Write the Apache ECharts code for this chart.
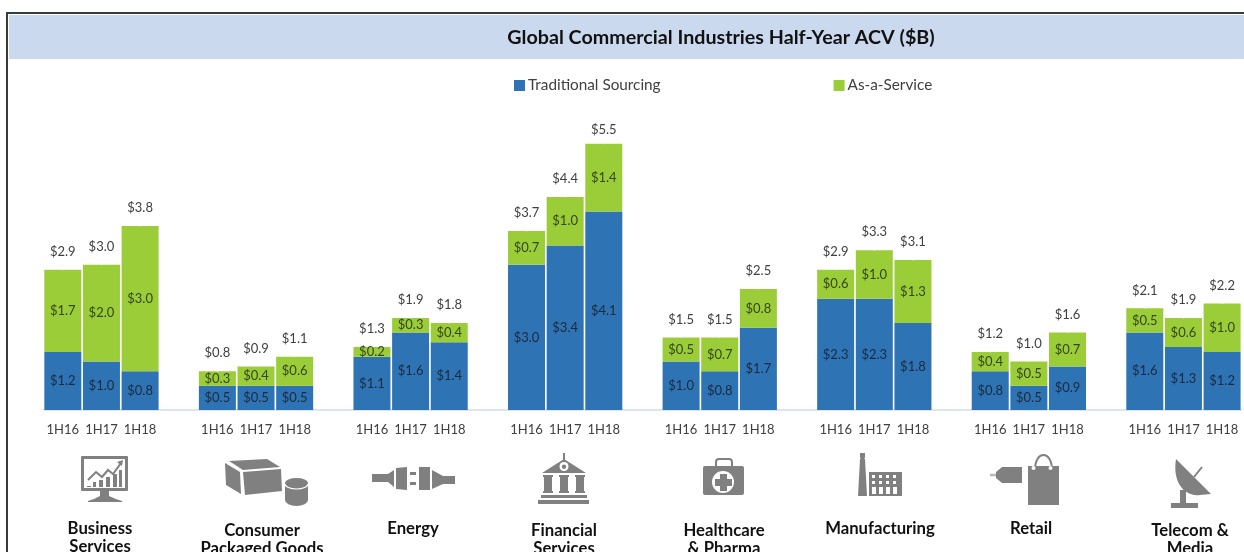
<!DOCTYPE html>
<html>
<head>
<meta charset="utf-8">
<style>
  html, body { margin: 0; padding: 0; background: #fff; overflow: hidden; }
  #chart { width: 1244px; height: 552px; }
</style>
<script src="https://cdn.jsdelivr.net/npm/echarts@6/dist/echarts.min.js"></script>
</head>
<body>
<div id="chart"></div>
<script>
const FONT = 'Lato';
const GREY = '#808080';

const periods = [
  '1H16', '1H17', '1H18', '',
  '1H16', '1H17', '1H18', '',
  '1H16', '1H17', '1H18', '',
  '1H16', '1H17', '1H18', '',
  '1H16', '1H17', '1H18', '',
  '1H16', '1H17', '1H18', '',
  '1H16', '1H17', '1H18', '',
  '1H16', '1H17', '1H18',
];
const traditionalSourcing = [
  1.2, 1.0, 0.8, null,
  0.5, 0.5, 0.5, null,
  1.1, 1.6, 1.4, null,
  3.0, 3.4, 4.1, null,
  1.0, 0.8, 1.7, null,
  2.3, 2.3, 1.8, null,
  0.8, 0.5, 0.9, null,
  1.6, 1.3, 1.2,
];
const asAService = [
  1.7, 2.0, 3.0, null,
  0.3, 0.4, 0.6, null,
  0.2, 0.3, 0.4, null,
  0.7, 1.0, 1.4, null,
  0.5, 0.7, 0.8, null,
  0.6, 1.0, 1.3, null,
  0.4, 0.5, 0.7, null,
  0.5, 0.6, 1.0,
];
const totals = [
  2.9, 3.0, 3.8, null,
  0.8, 0.9, 1.1, null,
  1.3, 1.9, 1.8, null,
  3.7, 4.4, 5.5, null,
  1.5, 1.5, 2.5, null,
  2.9, 3.3, 3.1, null,
  1.2, 1.0, 1.6, null,
  2.1, 1.9, 2.2,
];
const industries = [
  { lines: ['Business', 'Services'], x: 100, y: 529 },
  { lines: ['Consumer', 'Packaged Goods'], x: 262, y: 531 },
  { lines: ['Energy'], x: 413, y: 529 },
  { lines: ['Financial', 'Services'], x: 564, y: 531 },
  { lines: ['Healthcare', '& Pharma'], x: 724, y: 531 },
  { lines: ['Manufacturing'], x: 880, y: 529 },
  { lines: ['Retail'], x: 1031, y: 529 },
  { lines: ['Telecom &', 'Media'], x: 1190, y: 531 },
];

const money = v => `$${v.toFixed(1)}`;

// pathData gets scaled to its own bbox, so keep a 1244x552 frame in each path
const FRAME = 'M0 0h0 M1244 552h0 ';
const icon = (d, fill = GREY) => ({
  type: 'path',
  silent: true,
  shape: { pathData: FRAME + d, layout: 'cover', x: 0, y: 0, width: 1244, height: 552 },
  style: { fill },
});
const grey = d => icon(d);
const white = d => icon(d, '#fff');
const outline = (d, width, color = GREY) => ({
  type: 'path',
  silent: true,
  shape: { pathData: FRAME + d, layout: 'cover', x: 0, y: 0, width: 1244, height: 552 },
  style: { fill: 'none', stroke: color, lineWidth: width },
});

const icons = [
  // monitor
  grey('M82 456h45a1 1 0 0 1 1 1v33a1 1 0 0 1 -1 1h-45a1 1 0 0 1 -1 -1v-33a1 1 0 0 1 1 -1z'),
  white('M84 459h41v29h-41z'),
  grey('M100 491h9v5q6 3 13 5v1h-34v-1q7 -2 12 -5z'),
  grey('M87 486h4v1h-4z M93 482h3v5h-3z M99 480h4v7h-4z M106 477h4v10h-4z M113 474h4v13h-4z M119 470h3v17h-3z'),
  outline('M88 480L96 472L102 477L108 470L113 474L121 463', 2),
  grey('M117 462l6 -2l-1 6z'),
  // box and can
  grey('M225 463L240 472L241 494L226 485z'),
  grey('M229 461L267 459L280 467L243 470z'),
  grey('M243 472L281 469L282 491L245 495z'),
  grey('M285 483a11.5 5 0 0 1 23 0v17a11.5 6 0 0 1 -23 0z'),
  outline('M285 484a11.5 5 0 0 0 23 0', 1.2, '#fff'),
  // plug
  grey('M372 474h16l6 -4v17l-6 -5h-16z'),
  grey('M396 468l11 -1v23l-11 -1z'),
  grey('M410 472h6v3h-6z M410 482h6v3h-6z'),
  grey('M419 467h11v23h-11z'),
  grey('M432 470l11 6h12v8h-12l-11 5z'),
  // bank
  grey('M563 453h2v7h-2z'),
  grey('M564 459L586 473H542z'),
  white('M564 462a4.5 4.5 0 1 0 .01 0z'),
  grey('M564 464.5a2.2 2.2 0 1 0 .01 0z'),
  grey('M543 475h10v2h-1v14h1v2h-10v-2h1v-14h-1z'),
  grey('M559 475h10v2h-1v14h1v2h-10v-2h1v-14h-1z'),
  grey('M575 475h10v2h-1v14h1v2h-10v-2h1v-14h-1z'),
  grey('M541 495h46v3h-46z M538 500h51v4h-51z'),
  // medical case
  grey('M705 466h37a2 2 0 0 1 2 2v25a2 2 0 0 1 -2 2h-37a2 2 0 0 1 -2 -2v-25a2 2 0 0 1 2 -2z'),
  outline('M716 466v-4a3 3 0 0 1 3 -3h10a3 3 0 0 1 3 3v4', 2),
  white('M723 471a11 11 0 1 0 .01 0z'),
  grey('M720 474h7v5h5v7h-5v5h-7v-5h-5v-7h5z'),
  // factory
  grey('M860 459a3 3 0 0 1 5 0l2 37h-9z M860 453h5v5h-5z'),
  grey('M869 472h33v24h-33z'),
  white('M872 475h3v3h-3z M879 475h3v3h-3z M886 475h3v3h-3z M893 475h3v3h-3z'),
  white('M872 481h3v3h-3z M879 481h3v3h-3z M886 481h3v3h-3z M893 481h3v3h-3z'),
  white('M872 487h4v7h-4z M879 487h4v7h-4z M886 487h4v7h-4z M893 487h4v7h-4z'),
  // tag and bag
  outline('M990 475h11', 2.5, '#B8B8B8'),
  grey('M1002 467h20v16h-20l-6 -5v-6z'),
  grey('M1028 466h31v39h-31z'),
  outline('M1035 470c0 -20 17 -20 17 0', 2),
  white('M1033.5 466a2 2 0 1 0 .01 0z M1050.5 466a2 2 0 1 0 .01 0z'),
  // satellite dish
  grey('M1176 459L1211 494L1200 495C1186 497 1172 484 1176 459z'),
  outline('M1194 477L1202 467', 2),
  grey('M1180 490h6v14h-6z'),
  grey('M1171 503h27v5h-27z'),
];

const industryLabels = industries.flatMap(item => item.lines.map((line, i) => ({
  type: 'text',
  silent: true,
  x: item.x,
  y: item.y + i * 18,
  style: {
    text: line,
    fill: '#111',
    font: `bold 16.7px ${FONT}`,
    textAlign: 'center',
    textVerticalAlign: 'middle',
  },
})));

const option = {
  animation: false,
  backgroundColor: '#fff',
  textStyle: { fontFamily: FONT },
  legend: {
    left: 509,
    top: 73,
    itemWidth: 11,
    itemHeight: 11,
    itemGap: 173,
    icon: 'rect',
    data: ['Traditional Sourcing', 'As-a-Service'],
    textStyle: { fontFamily: FONT, fontSize: 15.3, color: '#404040', padding: [0, 0, 0, -2] },
  },
  grid: { left: 43.5, top: 71.2, width: 1197.9, height: 338.8 },
  xAxis: {
    type: 'category',
    data: periods,
    axisLine: { lineStyle: { color: '#DCE6F2', width: 2 } },
    axisTick: { show: false },
    axisLabel: { interval: 0, color: '#404040', fontSize: 13, margin: 13, fontFamily: FONT },
  },
  yAxis: { type: 'value', min: 0, max: 7, show: false, splitLine: { show: false } },
  series: [
    {
      name: 'Traditional Sourcing',
      type: 'bar',
      stack: 'acv',
      barWidth: 37,
      data: traditionalSourcing,
      itemStyle: { color: '#2E74B5' },
      label: { show: true, position: 'inside', formatter: p => money(p.value), color: '#1B2A3D', fontSize: 13, fontFamily: FONT },
    },
    {
      name: 'As-a-Service',
      type: 'bar',
      stack: 'acv',
      barWidth: 37,
      data: asAService,
      itemStyle: { color: '#9ACD38' },
      label: { show: true, position: 'inside', formatter: p => money(p.value), color: '#36451B', fontSize: 13, fontFamily: FONT },
    },
    {
      name: 'Total',
      type: 'line',
      // the $5.5 label sits closer to its bar than the others
      data: totals.map(v => (v === 5.5 ? { value: v, label: { distance: 6 } } : v)),
      connectNulls: false,
      symbolSize: 1,
      lineStyle: { color: 'transparent', width: 0 },
      itemStyle: { color: 'transparent', borderColor: 'transparent' },
      label: { show: true, position: 'top', distance: 10, formatter: p => money(p.value), color: '#404040', fontSize: 13, fontFamily: FONT },
      silent: true,
    },
    {
      // custom series is the only place path elements are allowed
      type: 'custom',
      coordinateSystem: 'none',
      silent: true,
      data: [0],
      renderItem: () => ({ type: 'group', children: icons }),
    },
  ],
  graphic: [
    { type: 'rect', silent: true, shape: { x: 9, y: 15, width: 1235, height: 44 }, style: { fill: '#CBD9EE' } },
    { type: 'rect', silent: true, shape: { x: 7, y: 12, width: 1237, height: 2 }, style: { fill: '#3A3A3A' } },
    { type: 'rect', silent: true, shape: { x: 6, y: 12, width: 2, height: 540 }, style: { fill: '#3A3A3A' } },
    {
      type: 'text',
      silent: true,
      x: 721,
      y: 38,
      style: {
        text: 'Global Commercial Industries Half-Year ACV ($B)',
        fill: '#111',
        font: `bold 19.7px ${FONT}`,
        textAlign: 'center',
        textVerticalAlign: 'middle',
      },
    },
    ...industryLabels,
  ],
};

const chart = echarts.init(document.getElementById('chart'), null, { renderer: 'canvas' });
chart.setOption(option);
window.addEventListener('resize', chart.resize);
</script>
</body>
</html>
